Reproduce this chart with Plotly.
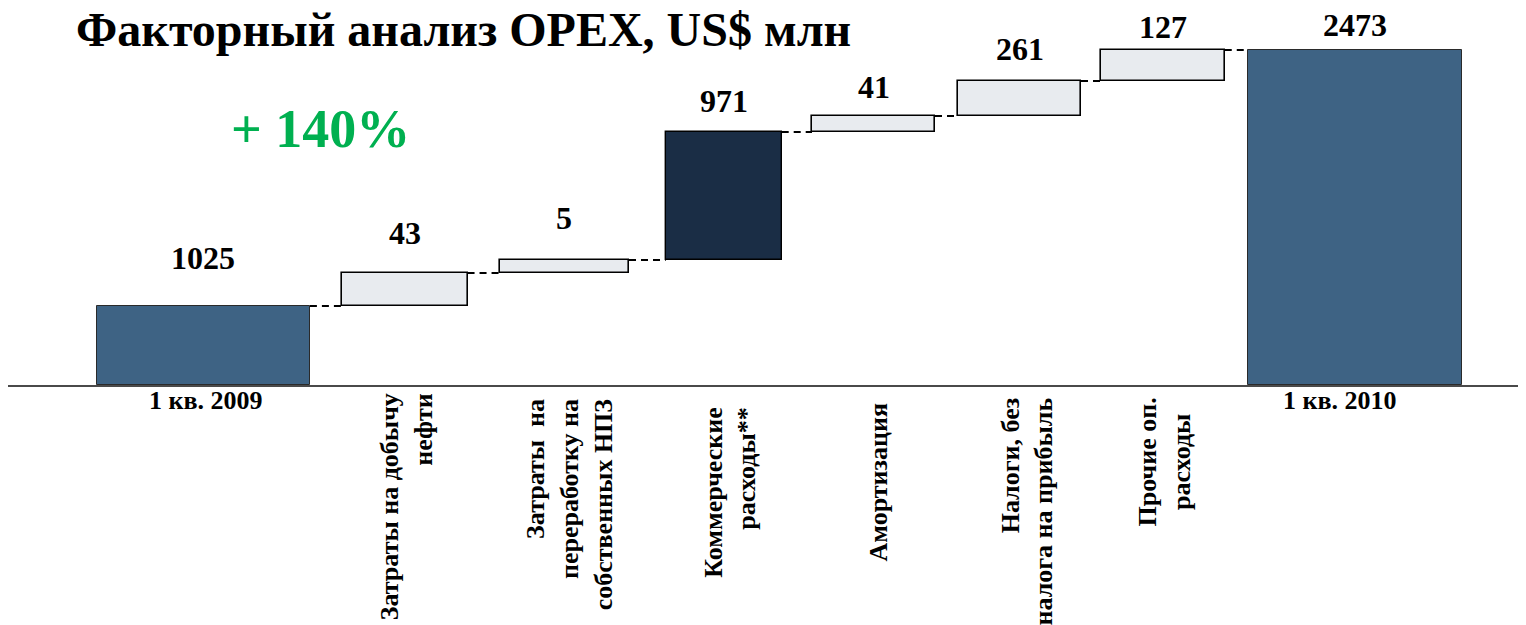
import plotly.graph_objects as go

# ---------------- data ----------------
categories = [
    "1 кв. 2009",
    "Затраты на добычу<br>нефти",
    "Затраты\u00a0\u00a0на<br>переработку на<br>собственных НПЗ",
    "Коммерческие<br>расходы**",
    "Амортизация",
    "Налоги, без<br>налога на прибыль",
    "Прочие оп.<br>расходы",
    "1 кв. 2010",
]
values = [1025, 43, 5, 971, 41, 261, 127, 2473]          # US$ mln, value labels
kinds = ["total", "delta", "delta", "delta", "delta", "delta", "delta", "total"]
# the original chart is schematic (not to scale): step sizes as drawn in the picture
drawn_heights = [79, 33, 13, 128, 16, 35, 31, 335]
growth_label = "+ 140%"
title_text = "Факторный анализ OPEX, US$ млн"

# ---------------- layout / style ----------------
bar_center = [203.4, 404.8, 564.3, 723.7, 873.5, 1019.5, 1162.9, 1354.5]
bar_width = [213, 125.5, 129.4, 116, 123, 123, 123.7, 214]
bar_fill = ["#3E6384", "#E8EBEF", "#E8EBEF", "#1A2D45", "#E8EBEF", "#E8EBEF", "#E8EBEF", "#3E6384"]
bar_line = ["#2a2a2a", "#000000", "#000000", "#000000", "#000000", "#000000", "#000000", "#2a2a2a"]
bar_line_w = [1, 1.6, 1.6, 1.4, 1.6, 1.6, 1.6, 1]
value_gap = [47.7, 40.5, 42, 31, 28.7, 32.3, 22.7, 25.2]       # px above bar top
label_angle = [0, -90, -90, -90, -90, -90, -90, 0]
label_align = ["center", "right", "right", "right", "center", "right", "center", "center"]
label_xshift = [3, 2, 5, 6, 4.5, 7, 2, -15]
label_yshift = [-15.5, -6, -11, -21, -16, -11, -10, -15.5]

FONT = "Liberation Serif, Times New Roman, serif"
OFF = 8                     # page body margin
W, H = 1526 - OFF, 625 - OFF
PLOT_H = 385 - OFF          # baseline lies at page y = 385

# running waterfall geometry
bases, tops = [], []
running = 0
for k, h in zip(kinds, drawn_heights):
    if k == "total":
        b = 0
        running = h
    else:
        b = running
        running += h
    bases.append(b)
    tops.append(b + h)

fig = go.Figure()
fig.add_trace(go.Bar(
    x=bar_center, y=drawn_heights, base=bases, width=bar_width,
    marker=dict(color=bar_fill, line=dict(color=bar_line, width=bar_line_w)),
    hoverinfo="skip", showlegend=False,
))

# dashed connectors
cx, cy = [], []
for i in range(len(values) - 1):
    cx += [bar_center[i] + bar_width[i] / 2, bar_center[i + 1] - bar_width[i + 1] / 2, None]
    cy += [tops[i], tops[i], None]
fig.add_trace(go.Scatter(x=cx, y=cy, mode="lines",
                         line=dict(color="black", width=2, dash="7px,5px"),
                         hoverinfo="skip", showlegend=False))

annotations = []
for i, v in enumerate(values):
    annotations.append(dict(
        x=bar_center[i], y=tops[i], xref="x", yref="y",
        text=f"<b>{v}</b>", showarrow=False, yanchor="middle", xanchor="center",
        yshift=value_gap[i], font=dict(family=FONT, size=32, color="black"),
    ))
for i, c in enumerate(categories):
    if label_angle[i] == 0:
        annotations.append(dict(
            x=bar_center[i], y=0, xref="x", yref="y", text=f"<b>{c}</b>",
            showarrow=False, xanchor="center", yanchor="middle",
            xshift=label_xshift[i], yshift=label_yshift[i],
            font=dict(family=FONT, size=26, color="black"),
        ))
    else:
        annotations.append(dict(
            x=bar_center[i], y=0, xref="x", yref="y", text=f"<b>{c}</b>",
            showarrow=False, xanchor="center", yanchor="top", textangle=-90,
            align=label_align[i],
            xshift=label_xshift[i], yshift=label_yshift[i],
            font=dict(family=FONT, size=26, color="black"),
        ))
annotations.append(dict(
    x=(229 - OFF) / W, y=1 - (128.8 - OFF) / PLOT_H, xref="paper", yref="paper",
    text=f"<b>{growth_label}</b>", showarrow=False, xanchor="left", yanchor="middle",
    font=dict(family=FONT, size=54, color="#00B050"),
))

fig.update_layout(
    width=W, height=H, autosize=False,
    margin=dict(l=0, r=0, t=0, b=H - PLOT_H, pad=0),
    paper_bgcolor="white", plot_bgcolor="white",
    title=dict(text=f"<b>{title_text}</b>", x=(76 - OFF) / W, xanchor="left",
               y=1 - (29 - OFF) / H, yanchor="middle",
               font=dict(family=FONT, size=48, color="black")),
    xaxis=dict(range=[OFF, OFF + W], showgrid=False, zeroline=False, showticklabels=False,
               ticks="", showline=True, linecolor="#4a4a4a", linewidth=2, fixedrange=True),
    yaxis=dict(range=[0, PLOT_H], showgrid=False, zeroline=False, showticklabels=False,
               ticks="", showline=False, fixedrange=True),
    annotations=annotations,
    bargap=0,
)

fig.write_html("out.html")
